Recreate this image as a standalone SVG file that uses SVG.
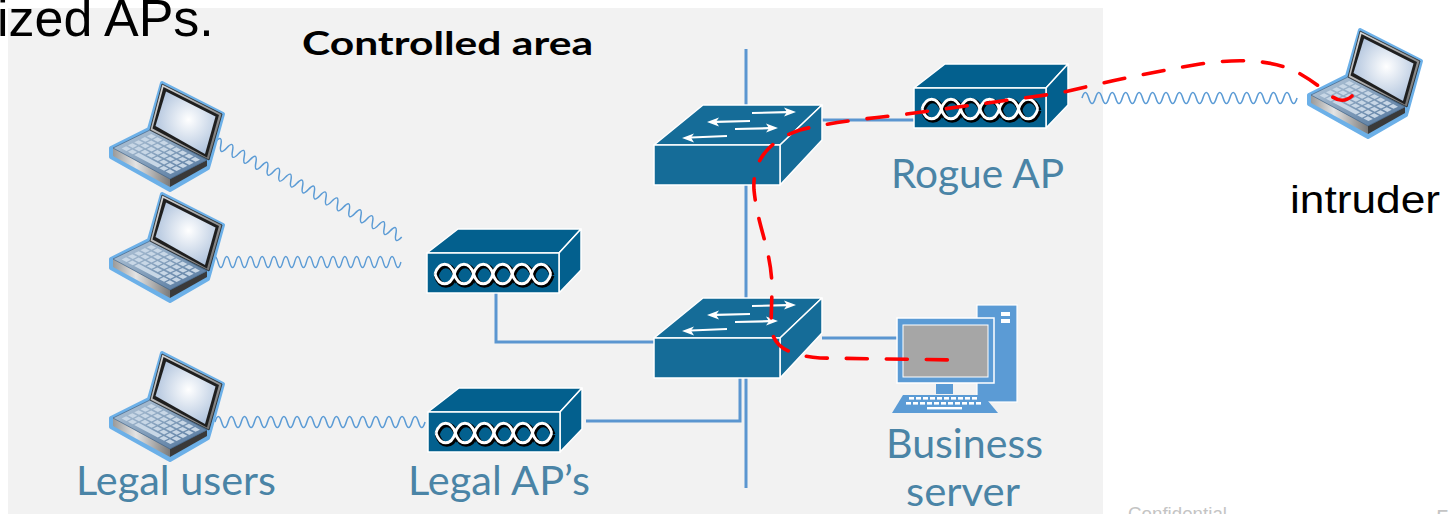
<svg xmlns="http://www.w3.org/2000/svg" xmlns:xlink="http://www.w3.org/1999/xlink" width="1450" height="514" viewBox="0 0 1450 514">
<style>
  .link{stroke:#5b96d0;stroke-width:3;fill:none}
  .wave{stroke:#5b9bd5;stroke-width:1.4;fill:none}
  .lbl{font-family:Lato,'Open Sans',sans-serif;fill:#4a84a6;font-size:41px}
  .blk{font-family:'Liberation Sans',Arial,sans-serif;fill:#000}
  .edge{stroke:#fff;stroke-width:1.5;stroke-linejoin:round}
  .sw{fill:#156c98}
  .apf{fill:#03608e}
  .arr{stroke:#fff;stroke-width:2.2;fill:none}
  .arrh{fill:#fff}
  .key{fill:#c8d7e6}
  .path{stroke:#ff0000;stroke-width:3.6;fill:none;stroke-dasharray:21 19;stroke-linecap:round}
  .foot{font-family:'Liberation Sans',Arial,sans-serif;fill:#c4c4c4}
</style>
<defs>
  <linearGradient id="gDeck" x1="0" y1="0" x2="1" y2="1">
    <stop offset="0" stop-color="#b9cbdc"/>
    <stop offset="1" stop-color="#4d729a"/>
  </linearGradient>
  <linearGradient id="gEdge" x1="0" y1="0" x2="1" y2="0">
    <stop offset="0" stop-color="#9a9a9a"/>
    <stop offset="0.4" stop-color="#e4e4e4"/>
    <stop offset="1" stop-color="#7a7a7a"/>
  </linearGradient>
  <linearGradient id="gLid" x1="0" y1="0" x2="1" y2="1">
    <stop offset="0" stop-color="#e2e2e2"/>
    <stop offset="1" stop-color="#6a6a6a"/>
  </linearGradient>
  <radialGradient id="gScreen" cx="0.55" cy="0.45" r="0.6">
    <stop offset="0" stop-color="#ffffff"/>
    <stop offset="1" stop-color="#aec2dc"/>
  </radialGradient>

  <!-- sine wave used for wireless links, 16 periods over 192 units -->
  <path id="radio" d="M0,0 q3,-11 6,0 q3,11 6,0 q3,-11 6,0 q3,11 6,0 q3,-11 6,0 q3,11 6,0 q3,-11 6,0 q3,11 6,0 q3,-11 6,0 q3,11 6,0 q3,-11 6,0 q3,11 6,0 q3,-11 6,0 q3,11 6,0 q3,-11 6,0 q3,11 6,0 q3,-11 6,0 q3,11 6,0 q3,-11 6,0 q3,11 6,0 q3,-11 6,0 q3,11 6,0 q3,-11 6,0 q3,11 6,0 q3,-11 6,0 q3,11 6,0 q3,-11 6,0 q3,11 6,0 q3,-11 6,0 q3,11 6,0 q3,-11 6,0 q3,11 6,0"/>

  <!-- laptop icon -->
  <g id="laptop">
    <polygon points="52,-1 113,30 100,77 98,84 60,106 1,73 1,64 39,45" fill="#6cb0e8" stroke="#6cb0e8" stroke-width="4" stroke-linejoin="round"/>
    <polygon points="3,64 60,95 60,103 3,72" fill="url(#gEdge)"/>
    <polygon points="60,95 97,76 97,82 60,103" fill="#3a3a3a"/>
    <polygon points="40,46 97,76 60,95 3,64" fill="url(#gDeck)" stroke="#3b5573" stroke-width="0.6"/>
    <g transform="matrix(0.57,0.30,-0.37,0.18,40,46)">
      <g class="key">
        <rect x="8" y="9" width="8.5" height="12"/><rect x="19" y="9" width="8.5" height="12"/><rect x="30" y="9" width="8.5" height="12"/><rect x="41" y="9" width="8.5" height="12"/><rect x="52" y="9" width="8.5" height="12"/><rect x="63" y="9" width="8.5" height="12"/><rect x="74" y="9" width="8.5" height="12"/><rect x="85" y="9" width="8.5" height="12"/>
        <rect x="8" y="26" width="8.5" height="12"/><rect x="19" y="26" width="8.5" height="12"/><rect x="30" y="26" width="8.5" height="12"/><rect x="41" y="26" width="8.5" height="12"/><rect x="52" y="26" width="8.5" height="12"/><rect x="63" y="26" width="8.5" height="12"/><rect x="74" y="26" width="8.5" height="12"/><rect x="85" y="26" width="8.5" height="12"/>
        <rect x="8" y="43" width="8.5" height="12"/><rect x="19" y="43" width="8.5" height="12"/><rect x="30" y="43" width="8.5" height="12"/><rect x="41" y="43" width="8.5" height="12"/><rect x="52" y="43" width="8.5" height="12"/><rect x="63" y="43" width="8.5" height="12"/><rect x="74" y="43" width="8.5" height="12"/><rect x="85" y="43" width="8.5" height="12"/>
        <rect x="8" y="60" width="8.5" height="12"/><rect x="19" y="60" width="8.5" height="12"/><rect x="30" y="60" width="8.5" height="12"/><rect x="41" y="60" width="8.5" height="12"/><rect x="52" y="60" width="8.5" height="12"/><rect x="63" y="60" width="8.5" height="12"/><rect x="74" y="60" width="8.5" height="12"/><rect x="85" y="60" width="8.5" height="12"/>
        <rect x="8" y="77" width="8.5" height="12"/><rect x="19" y="77" width="8.5" height="12"/><rect x="30" y="77" width="41.5" height="12"/><rect x="74" y="77" width="8.5" height="12"/><rect x="85" y="77" width="8.5" height="12"/>
      </g>
    </g>
    <polygon points="40,46 52,0 112,30 99,76" fill="url(#gLid)" stroke="#1e1e1e" stroke-width="0.8"/>
    <polygon points="42.5,44.5 53.5,3 109,31 97,73.5" fill="#1f1f1f"/>
    <polygon points="45.5,42 56,7.5 105.5,32.5 95,70" fill="url(#gScreen)"/>
  </g>

  <!-- chain pattern on the access point front -->
  <g id="braid">
    <g transform="translate(1.2,1.4)" stroke="#000" stroke-width="5" fill="none">
      <path d="M8,21 c4,-13 15.3,-13 19.3,0 c4,-13 15.3,-13 19.3,0 c4,-13 15.3,-13 19.3,0 c4,-13 15.3,-13 19.3,0 c4,-13 15.3,-13 19.3,0 c4,-13 15.3,-13 19.3,0"/>
      <path d="M8,21 c4,13 15.3,13 19.3,0 c4,13 15.3,13 19.3,0 c4,13 15.3,13 19.3,0 c4,13 15.3,13 19.3,0 c4,13 15.3,13 19.3,0 c4,13 15.3,13 19.3,0"/>
    </g>
    <g stroke="#fff" stroke-width="2.8" fill="none">
      <path d="M8,21 c4,-13 15.3,-13 19.3,0 c4,-13 15.3,-13 19.3,0 c4,-13 15.3,-13 19.3,0 c4,-13 15.3,-13 19.3,0 c4,-13 15.3,-13 19.3,0 c4,-13 15.3,-13 19.3,0"/>
      <path d="M8,21 c4,13 15.3,13 19.3,0 c4,13 15.3,13 19.3,0 c4,13 15.3,13 19.3,0 c4,13 15.3,13 19.3,0 c4,13 15.3,13 19.3,0 c4,13 15.3,13 19.3,0"/>
    </g>
  </g>

  <!-- access point box -->
  <g id="ap">
    <polygon class="apf edge" points="0,0 31,-24 154,-24 132,0"/>
    <polygon class="apf edge" points="132,0 154,-24 154,17 132,40"/>
    <rect class="apf edge" x="0" y="0" width="132" height="40"/>
    <use xlink:href="#braid"/>
  </g>

  <!-- workgroup switch box -->
  <g id="switch">
    <polygon class="sw edge" points="0,0 49,-40 168,-40 126,0"/>
    <polygon class="sw edge" points="126,0 168,-40 168,-5 126,40"/>
    <rect class="sw edge" x="0" y="0" width="126" height="40"/>
    <line class="arr" x1="98" y1="-32" x2="133" y2="-32.8"/>
    <polygon class="arrh" points="142,-33 130,-37.5 133,-33 130,-28.5"/>
    <line class="arr" x1="96" y1="-24" x2="62" y2="-23.2"/>
    <polygon class="arrh" points="53,-23 65,-27.5 62,-23.2 65,-18.5"/>
    <line class="arr" x1="81" y1="-16" x2="115" y2="-16.8"/>
    <polygon class="arrh" points="124,-17 112,-21.5 115,-16.8 112,-12.5"/>
    <line class="arr" x1="73" y1="-9" x2="37" y2="-7.5"/>
    <polygon class="arrh" points="28,-7 40,-11.5 37,-7.5 40,-2.5"/>
  </g>
</defs>

<rect width="1450" height="514" fill="#ffffff"/>
<!-- shaded controlled area -->
<rect x="8" y="8" width="1095" height="520" fill="#f2f2f2"/>

<text class="blk" x="-3" y="36" font-size="52">ized APs.</text>
<text x="302" y="55" font-family="Lato,'Open Sans',sans-serif" font-weight="bold" font-size="33" fill="#000" textLength="291" lengthAdjust="spacingAndGlyphs">Controlled area</text>

<g id="connectors">
  <line class="link" x1="746" y1="49" x2="746" y2="488"/>
  <polyline class="link" points="496,293 496,342 655,342"/>
  <polyline class="link" points="586,421 740,421 740,378"/>
  <line class="link" x1="822" y1="120" x2="916" y2="120"/>
  <line class="link" x1="822" y1="338" x2="898" y2="338"/>
  <use class="wave" xlink:href="#radio" transform="translate(215,142) rotate(26.97) scale(1.091,1)"/>
  <use class="wave" xlink:href="#radio" transform="translate(212,262) scale(0.984,1)"/>
  <use class="wave" xlink:href="#radio" transform="translate(215,422) scale(1.094,1)"/>
  <use class="wave" xlink:href="#radio" transform="translate(1082,98) scale(1.12,1)"/>
</g>

<g id="switch-core-upper"><use xlink:href="#switch" transform="translate(654,145)"/></g>
<g id="switch-core-lower"><use xlink:href="#switch" transform="translate(654,338)"/></g>
<g id="ap-legal-upper"><use xlink:href="#ap" transform="translate(427,253)"/></g>
<g id="ap-legal-lower"><use xlink:href="#ap" transform="translate(428,412)"/></g>
<g id="ap-rogue"><use xlink:href="#ap" transform="translate(914,88)"/></g>

<g id="laptop-1"><use xlink:href="#laptop" transform="translate(110,84)"/></g>
<g id="laptop-2"><use xlink:href="#laptop" transform="translate(110,195)"/></g>
<g id="laptop-3"><use xlink:href="#laptop" transform="translate(110,354)"/></g>
<g id="laptop-intruder"><use xlink:href="#laptop" transform="translate(1308,31)"/></g>

<g id="business-server">
  <rect x="977" y="305" width="40" height="97" fill="#5b9bd5" stroke="#fff" stroke-width="1.2"/>
  <rect x="1001" y="312" width="9" height="4" fill="#fff"/>
  <rect x="1001" y="319" width="9" height="4" fill="#fff"/>
  <rect x="897" y="318" width="97" height="65" fill="#5b9bd5" stroke="#fff" stroke-width="1.5"/>
  <rect x="903" y="325" width="85" height="52" fill="#a6a6a6" stroke="#fff" stroke-width="1"/>
  <rect x="936" y="384" width="17" height="10" fill="#5b9bd5"/>
  <polygon points="903,395 983,395 998,413 892,413" fill="#5b9bd5"/>
  <g fill="#fff">
    <rect x="909" y="397" width="5" height="2.6"/><rect x="916" y="397" width="5" height="2.6"/><rect x="923" y="397" width="5" height="2.6"/><rect x="930" y="397" width="5" height="2.6"/><rect x="937" y="397" width="5" height="2.6"/><rect x="944" y="397" width="5" height="2.6"/><rect x="951" y="397" width="5" height="2.6"/><rect x="958" y="397" width="5" height="2.6"/><rect x="965" y="397" width="5" height="2.6"/><rect x="972" y="397" width="5" height="2.6"/>
    <rect x="906" y="402" width="5" height="2.6"/><rect x="913" y="402" width="5" height="2.6"/><rect x="920" y="402" width="5" height="2.6"/><rect x="927" y="402" width="5" height="2.6"/><rect x="934" y="402" width="5" height="2.6"/><rect x="941" y="402" width="5" height="2.6"/><rect x="948" y="402" width="5" height="2.6"/><rect x="955" y="402" width="5" height="2.6"/><rect x="962" y="402" width="5" height="2.6"/><rect x="969" y="402" width="5" height="2.6"/><rect x="976" y="402" width="5" height="2.6"/>
    <rect x="927" y="407" width="35" height="2.4"/>
  </g>
</g>

<!-- attack route from the intruder through the rogue AP to the server -->
<path class="path" d="M1352,96 Q1342,105 1330,95 Q1312,80 1295,71 Q1260,55 1200,64 Q1130,76 1060,93 L900,115 Q830,122 800,130 C770,140 752,160 754,190 C758,230 772,250 772,290 L771,325 C772,345 785,355 820,358 L955,360"/>

<text class="lbl" x="76" y="495" textLength="200" lengthAdjust="spacingAndGlyphs">Legal users</text>
<text class="lbl" x="408" y="495" textLength="182" lengthAdjust="spacingAndGlyphs">Legal AP’s</text>
<text class="lbl" x="891" y="188" textLength="173" lengthAdjust="spacingAndGlyphs">Rogue AP</text>
<text class="lbl" x="886" y="458" textLength="157" lengthAdjust="spacingAndGlyphs">Business</text>
<text class="lbl" x="906" y="506" textLength="114" lengthAdjust="spacingAndGlyphs">server</text>
<text class="blk" x="1290" y="213" font-size="38" textLength="150" lengthAdjust="spacingAndGlyphs">intruder</text>

<text class="foot" x="1128" y="520" font-size="18.7" textLength="99" lengthAdjust="spacingAndGlyphs">Confidential</text>
<text class="foot" x="1436" y="527" font-size="24">5</text>
</svg>
